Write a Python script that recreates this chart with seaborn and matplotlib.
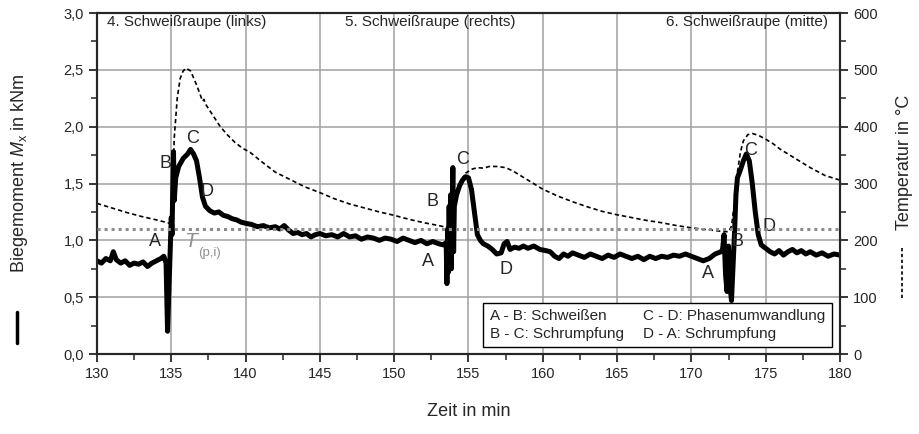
import numpy as np
import pandas as pd
import matplotlib
matplotlib.use("Agg")
import matplotlib.pyplot as plt
import seaborn as sns
from matplotlib.lines import Line2D
from matplotlib.ticker import MultipleLocator, FuncFormatter

# Biegemoment M_x (kNm) ueber der Zeit (min)
zeit_m = [
    130.0, 130.3, 130.6, 130.9, 131.1, 131.3, 131.6, 131.9, 132.2, 132.5,
    132.8, 133.1, 133.4, 133.7, 134.0, 134.3, 134.5, 134.65, 134.75, 134.85,
    134.95, 135.0, 135.05, 135.1, 135.15, 135.2, 135.3, 135.5, 135.8, 136.1,
    136.3, 136.5, 136.7, 136.9, 137.1, 137.3, 137.6, 137.9, 138.2, 138.5,
    138.8, 139.1, 139.4, 139.7, 140.0, 140.4, 140.8, 141.2, 141.6, 142.0,
    142.3, 142.6, 142.9, 143.2, 143.5, 143.8, 144.1, 144.4, 144.7, 145.0,
    145.4, 145.8, 146.2, 146.6, 147.0, 147.4, 147.8, 148.2, 148.6, 149.0,
    149.4, 149.8, 150.2, 150.6, 151.0, 151.4, 151.8, 152.2, 152.6, 153.0,
    153.3, 153.5, 153.55, 153.6, 153.65, 153.7, 153.75, 153.8, 153.85, 153.9,
    153.95, 154.0, 154.05, 154.2, 154.4, 154.6, 154.8, 155.0, 155.2, 155.4,
    155.6, 155.8, 156.0, 156.3, 156.6, 156.9, 157.2, 157.4, 157.6, 157.8,
    158.1, 158.4, 158.7, 159.0, 159.4, 159.8, 160.2, 160.5, 160.8, 161.1,
    161.4, 161.7, 162.0, 162.4, 162.8, 163.2, 163.6, 164.0, 164.4, 164.8,
    165.2, 165.6, 166.0, 166.4, 166.8, 167.2, 167.6, 168.0, 168.4, 168.8,
    169.2, 169.6, 170.0, 170.4, 170.8, 171.2, 171.6, 172.0, 172.1, 172.2,
    172.3, 172.4, 172.5, 172.6, 172.7, 172.8, 172.9, 173.0, 173.1, 173.3,
    173.5, 173.7, 173.9, 174.1, 174.3, 174.5, 174.7, 175.0, 175.3, 175.6,
    175.9, 176.2, 176.5, 176.8, 177.1, 177.4, 177.7, 178.0, 178.4, 178.8,
    179.2, 179.6, 180.0,
]
moment = [
    0.82, 0.80, 0.84, 0.82, 0.90, 0.83, 0.80, 0.82, 0.78, 0.80,
    0.79, 0.81, 0.77, 0.80, 0.82, 0.84, 0.86, 0.80, 0.20, 0.60,
    1.00, 1.20, 1.05, 1.45, 1.78, 1.35, 1.55, 1.65, 1.72, 1.76,
    1.80, 1.76, 1.70, 1.55, 1.38, 1.30, 1.26, 1.24, 1.25, 1.22,
    1.21, 1.19, 1.18, 1.16, 1.15, 1.14, 1.12, 1.13, 1.11, 1.12,
    1.10, 1.13, 1.09, 1.06, 1.07, 1.05, 1.06, 1.03, 1.05, 1.06,
    1.04, 1.05, 1.03, 1.06, 1.03, 1.04, 1.01, 1.03, 1.02, 1.00,
    1.02, 1.01, 0.99, 1.02, 1.00, 0.98, 1.00, 0.97, 0.99, 0.97,
    0.96, 0.98, 0.62, 1.10, 0.72, 1.30, 0.80, 1.40, 0.75, 1.25,
    1.64, 0.90, 1.30, 1.40, 1.48, 1.53, 1.56, 1.55, 1.45, 1.25,
    1.05, 1.00, 0.97, 0.95, 0.92, 0.88, 0.89, 0.97, 0.99, 0.92,
    0.94, 0.93, 0.95, 0.93, 0.95, 0.92, 0.91, 0.90, 0.86, 0.84,
    0.88, 0.86, 0.89, 0.87, 0.85, 0.88, 0.86, 0.84, 0.87, 0.85,
    0.88, 0.86, 0.84, 0.86, 0.83, 0.86, 0.84, 0.86, 0.85, 0.87,
    0.86, 0.88, 0.86, 0.84, 0.82, 0.84, 0.88, 0.90, 0.92, 1.05,
    0.70, 0.55, 0.95, 0.60, 0.47, 0.75, 1.05, 1.40, 1.55, 1.62,
    1.70, 1.76, 1.70, 1.50, 1.25, 1.05, 0.96, 0.93, 0.90, 0.88,
    0.91, 0.87, 0.90, 0.92, 0.89, 0.91, 0.88, 0.90, 0.87, 0.89,
    0.86, 0.88, 0.87,
]

# Temperatur (Grad C) ueber der Zeit (min)
zeit_t = [
    130.0, 131.0, 132.0, 133.0, 134.0, 134.9, 135.0, 135.1, 135.2, 135.4,
    135.6, 135.8, 136.0, 136.3, 136.6, 136.9, 137.1, 137.2, 137.3, 137.8,
    138.3, 138.8, 139.3, 139.8, 140.3, 141.0, 142.0, 143.0, 144.0, 145.0,
    146.0, 147.0, 148.0, 149.0, 150.0, 151.0, 152.0, 153.0, 153.5, 153.7,
    153.9, 154.2, 154.5, 154.8, 155.2, 155.6, 156.0, 156.4, 156.9, 157.5,
    158.0, 158.5, 159.0, 159.5, 160.0, 161.0, 162.0, 163.0, 164.0, 165.0,
    166.0, 167.0, 168.0, 169.0, 170.0, 171.0, 172.0, 172.5, 172.7, 172.9,
    173.1, 173.3, 173.5, 173.8, 174.1, 174.5, 175.0, 175.5, 176.0, 176.5,
    177.0, 177.5, 178.0, 178.5, 179.0, 179.5, 180.0,
]
temperatur = [
    265, 257, 249, 242, 236, 230, 235, 300, 380, 450,
    485, 498, 503, 498, 480, 460, 445, 448, 440, 420,
    400, 385, 372, 362, 355, 340, 320, 307, 294, 284,
    273, 264, 257, 250, 244, 237, 231, 226, 223, 225,
    245, 280, 305, 318, 325, 328, 327, 330, 330, 328,
    322, 314, 306, 298, 290, 278, 268, 259, 251, 245,
    240, 235, 231, 226, 222, 219, 216, 215, 225, 265,
    320, 355, 375, 386, 388, 385, 378, 370, 360, 352,
    344, 336, 328, 321, 314, 310, 306,
]

T_PI = 220  # Grad C, entspricht 1,1 kNm

punkte_text = ["A", "B", "C", "D", "A", "B", "C", "D", "A", "B", "C", "D"]
punkte_x = [133.9, 134.6, 136.4, 137.4, 152.3, 152.6, 154.6, 157.5, 171.1, 173.1, 174.0, 175.2]
punkte_y = [0.99, 1.68, 1.90, 1.43, 0.81, 1.34, 1.71, 0.74, 0.71, 0.99, 1.79, 1.12]

raupen = ["4. Schweißraupe (links)", "5. Schweißraupe (rechts)", "6. Schweißraupe (mitte)"]
phasen = ["A - B: Schweißen", "B - C: Schrumpfung", "C - D: Phasenumwandlung", "D - A: Schrumpfung"]


def komma(v, pos, nd=1):
    return f"{v:.{nd}f}".replace(".", ",")


sns.set_style("ticks")
plt.rcParams["font.family"] = ["Liberation Sans", "DejaVu Sans"]
plt.rcParams["mathtext.fontset"] = "custom"
plt.rcParams["mathtext.rm"] = "Liberation Sans"
plt.rcParams["mathtext.it"] = "Liberation Sans:italic"

df_m = pd.DataFrame({"zeit": zeit_m, "moment": moment})
df_t = pd.DataFrame({"zeit": zeit_t, "temperatur": temperatur})

fig, ax = plt.subplots(figsize=(9.2, 4.34), dpi=100)
fig.subplots_adjust(left=0.1054, right=0.913, top=0.970, bottom=0.1843)
ax2 = ax.twinx()

sns.lineplot(data=df_m, x="zeit", y="moment", ax=ax, color="black", lw=3.6,
             estimator=None, sort=False, zorder=3)
sns.lineplot(data=df_t, x="zeit", y="temperatur", ax=ax2, color="black", lw=1.2,
             estimator=None, sort=False, dashes=False, zorder=2)
ax2.lines[-1].set_dashes((2.6, 1.8))
ax2.axhline(T_PI, color="#8c8c8c", lw=2.2, ls=(0, (1, 1.3)), zorder=4)

ax.set_xlim(130, 180)
ax.set_ylim(0, 3.0)
ax2.set_ylim(0, 600)
ax.xaxis.set_major_locator(MultipleLocator(5))
ax.xaxis.set_minor_locator(MultipleLocator(2.5))
ax.yaxis.set_major_locator(MultipleLocator(0.5))
ax.yaxis.set_minor_locator(MultipleLocator(0.25))
ax2.yaxis.set_major_locator(MultipleLocator(100))
ax2.yaxis.set_minor_locator(MultipleLocator(50))
ax.yaxis.set_major_formatter(FuncFormatter(komma))

ax.grid(True, which="major", color="#a0a0a0", lw=1.1)
ax.set_axisbelow(True)
for a in (ax, ax2):
    for s in a.spines.values():
        s.set_linewidth(1.5)
        s.set_visible(True)
    a.tick_params(which="major", direction="out", length=6, width=1.3, labelsize=10.5)
    a.tick_params(which="minor", direction="out", length=4, width=1.1)

ax.set_xlabel("Zeit in min", fontsize=13, labelpad=16)
ax.set_ylabel("")
ax2.set_ylabel("")

# Achsentitel mit Linienschluessel
ax.text(-0.104, 0.53, r"Biegemoment $M_{\mathrm{x}}$ in kNm", transform=ax.transAxes,
        rotation=90, ha="center", va="center", fontsize=13)
ax.plot([-0.108, -0.108], [0.032, 0.123], transform=ax.transAxes, color="black",
        lw=2.5, clip_on=False)
ax.text(1.087, 0.563, "Temperatur in °C", transform=ax.transAxes,
        rotation=90, ha="center", va="center", fontsize=13)
ax.plot([1.084, 1.084], [0.164, 0.314], transform=ax.transAxes, color="black",
        lw=1.2, ls=(0, (2, 1.5)), clip_on=False)

# Raupen-Beschriftung
ax.text(0.0135, 0.974, raupen[0], transform=ax.transAxes, ha="left", va="center", fontsize=11)
ax.text(0.448, 0.974, raupen[1], transform=ax.transAxes, ha="center", va="center", fontsize=11)
ax.text(0.984, 0.974, raupen[2], transform=ax.transAxes, ha="right", va="center", fontsize=11)

for t, x, y in zip(punkte_text, punkte_x, punkte_y):
    ax.text(x, y, t, ha="center", va="center", fontsize=13, zorder=5)

ax.text(135.85, 0.99, r"$T$", color="#909090", fontsize=15, ha="left", va="center",
        family="DejaVu Serif", style="italic")
ax.text(136.8, 0.89, "(p,i)", color="#909090", fontsize=9.5, ha="left", va="center")

handles = [Line2D([], [], alpha=0) for _ in phasen]
leg = ax2.legend(handles, phasen, ncol=2, loc="lower right", bbox_to_anchor=(0.989, 0.02),
                 borderaxespad=0, handlelength=0, handletextpad=0, fontsize=11,
                 frameon=True, fancybox=False, edgecolor="black", framealpha=1,
                 columnspacing=1.3, labelspacing=0.25, borderpad=0.4)
leg.get_frame().set_linewidth(1.0)

plt.savefig("out.png", dpi=100)
plt.close()
